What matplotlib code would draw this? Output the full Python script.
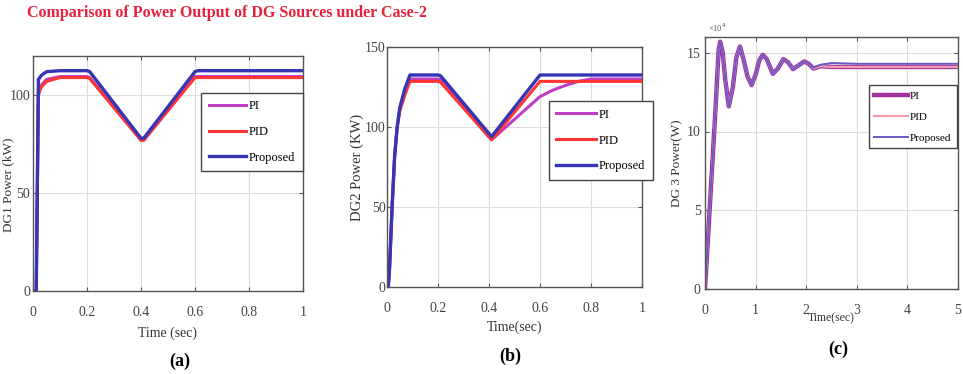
import matplotlib
matplotlib.use("Agg")
import matplotlib.pyplot as plt

plt.rcParams['font.family'] = ['Liberation Serif', 'DejaVu Serif']

# ---------------- data ----------------
# Panel (a): DG1 power (kW)
t_a = [0, 0.012, 0.02, 0.03, 0.05, 0.1, 0.2, 0.21, 0.4, 0.41, 0.6, 0.61, 1.0]
a_pi = [0, 0, 102, 105, 108, 109.5, 109.5, 109, 77, 77, 109.5, 109.5, 109.5]
a_pid = [0, 0, 100, 104, 107, 109, 109, 108.5, 77, 77, 109, 109, 109]
a_prop = [0, 0, 108, 110, 112, 112.5, 112.5, 112, 78, 78, 112, 112.5, 112.5]

# Panel (b): DG2 power (kW)
t_b = [0, 0.005, 0.01, 0.02, 0.03, 0.04, 0.05, 0.07, 0.09, 0.2, 0.21, 0.41, 0.6, 0.61, 1.0]
b_pid = [0, 0, 12, 50, 82, 100, 110, 120, 128.5, 128.5, 128, 92, 128.5, 128.5, 128.5]
b_prop = [0, 0, 12, 50, 82, 100, 112, 124, 132.5, 132.5, 132, 94, 132.5, 132.5, 132.5]
t_b_pi = [0, 0.005, 0.01, 0.02, 0.03, 0.04, 0.05, 0.07, 0.09, 0.2, 0.21, 0.41,
          0.6, 0.65, 0.7, 0.75, 0.8, 1.0]
b_pi = [0, 0, 12, 50, 82, 100, 111, 122, 130, 130, 129.5, 92,
        119, 123, 126, 128.5, 130, 130]

# Panel (c): DG3 power (W)
t_c = [0, 0.1, 0.2, 0.27, 0.3, 0.35, 0.4, 0.47, 0.55, 0.62, 0.69, 0.76, 0.84, 0.92,
       1.0, 1.07, 1.14, 1.22, 1.34, 1.44, 1.55, 1.64, 1.74, 1.85, 1.96, 2.05, 2.14,
       2.3, 2.5, 3.0, 4.0, 5.0]
c_prop = [0, 5.5, 11.0, 15.2, 15.7, 15.0, 13.3, 11.6, 12.8, 14.7, 15.4, 14.6, 13.5, 12.95,
          13.6, 14.5, 14.87, 14.6, 13.66, 14.0, 14.6, 14.4, 13.96, 14.2, 14.45, 14.3, 14.05,
          14.25, 14.35, 14.3, 14.3, 14.3]
c_pid = [0, 5.5, 11.0, 15.2, 15.7, 15.0, 13.3, 11.6, 12.8, 14.7, 15.4, 14.6, 13.5, 12.95,
         13.6, 14.5, 14.87, 14.6, 13.66, 14.0, 14.6, 14.4, 13.96, 14.2, 14.45, 14.3, 14.0,
         14.15, 14.1, 14.1, 14.1, 14.1]
c_pi = c_pid

series_labels = ["PI", "PID", "Proposed"]

# ---------------- figure ----------------
W, H = 963, 374
fig = plt.figure(figsize=(W / 100, H / 100), dpi=100)


def px_axes(left, top, right, bottom):
    return fig.add_axes([left / W, 1 - bottom / H, (right - left) / W, (bottom - top) / H])


def style(ax, ypad=3):
    ax.grid(True, color='#dddddd', linewidth=0.8)
    for s in ax.spines.values():
        s.set_color('#555555')
        s.set_linewidth(1.0)
    ax.tick_params(direction='in', length=3, labelsize=10, labelcolor='#444444',
                   color='#555555', top=True, right=True)
    ax.tick_params(axis='x', pad=11)
    ax.tick_params(axis='y', pad=ypad)


col_pi = '#c03cc0'
col_pid = '#ff3535'
col_prop = '#3535b5'

leg_kw = dict(frameon=True, fancybox=False, edgecolor='#444444', framealpha=1,
              handletextpad=0.2)

# (a)
ax1 = px_axes(33, 56, 303, 291)
ax1.plot(t_a, a_pi, color=col_pi, lw=2.2, label=series_labels[0])
ax1.plot(t_a, a_pid, color=col_pid, lw=2.2, label=series_labels[1])
ax1.plot(t_a, a_prop, color=col_prop, lw=2.4, label=series_labels[2])
ax1.set_xlim(0, 1)
ax1.set_ylim(0, 120)
ax1.set_xticks([0, 0.2, 0.4, 0.6, 0.8, 1])
ax1.set_xticklabels(["0", "0.2", "0.4", "0.6", "0.8", "1"])
ax1.set_yticks([0, 50, 100])
style(ax1, ypad=2)
ax1.set_xlabel("Time (sec)", fontsize=10, color='#333333')
ax1.xaxis.set_label_coords(0.5, -(327 - 291) / 235)
ax1.set_ylabel("DG1 Power (kW)", fontsize=9.5, color='#333333', va='center')
ax1.yaxis.set_label_coords(-(33 - 8) / 270, 0.45)
ax1.legend(loc='upper left', bbox_to_anchor=(0.6, 0.87), fontsize=9,
           handlelength=3.0, borderpad=0.6, labelspacing=1.1, **leg_kw)

# (b)
ax2 = px_axes(387, 47, 642, 287)
ax2.plot(t_b_pi, b_pi, color=col_pi, lw=2.2, label=series_labels[0])
ax2.plot(t_b, b_pid, color=col_pid, lw=2.2, label=series_labels[1])
ax2.plot(t_b, b_prop, color=col_prop, lw=2.4, label=series_labels[2])
ax2.set_xlim(0, 1)
ax2.set_ylim(0, 150)
ax2.set_xticks([0, 0.2, 0.4, 0.6, 0.8, 1])
ax2.set_xticklabels(["0", "0.2", "0.4", "0.6", "0.8", "1"])
ax2.set_yticks([0, 50, 100, 150])
style(ax2, ypad=1)
ax2.set_xlabel("Time(sec)", fontsize=10, color='#333333')
ax2.xaxis.set_label_coords(0.5, -(321 - 287) / 240)
ax2.set_ylabel("DG2 Power (KW)", fontsize=10.5, color='#333333', va='center')
ax2.yaxis.set_label_coords(-(387 - 357) / 255, 0.5)
ax2.legend(loc='upper left', bbox_to_anchor=(0.61, 0.80), fontsize=9,
           handlelength=3.2, borderpad=0.6, labelspacing=1.1, **leg_kw)

# (c)
ax3 = px_axes(705, 37, 958, 289)
ax3.plot(t_c, c_pi, color='#a0309a', lw=3.2, label=series_labels[0])
ax3.plot(t_c, c_pid, color='#f0a0b0', lw=1.6, label=series_labels[1])
ax3.plot(t_c, c_prop, color='#6a5ac8', lw=1.4, label=series_labels[2])
ax3.set_xlim(0, 5)
ax3.set_ylim(0, 16)
ax3.set_xticks([0, 1, 2, 3, 4, 5])
ax3.set_yticks([0, 5, 10, 15])
style(ax3, ypad=3)
ax3.set_xlabel("Time(sec)", fontsize=8.5, color='#333333')
ax3.xaxis.set_label_coords(0.5, -(312 - 289) / 252)
ax3.set_ylabel("DG 3 Power(W)", fontsize=9.5, color='#333333', va='center')
ax3.yaxis.set_label_coords(-(705 - 677) / 253, 0.5)
ax3.text(0.01, 1.01, "×10$^{4}$", transform=ax3.transAxes, fontsize=6, color='#555555',
         va='bottom', ha='left')
ax3.legend(loc='upper left', bbox_to_anchor=(0.625, 0.83), fontsize=8,
           handlelength=3.0, borderpad=0.5, labelspacing=1.0, **leg_kw)

# captions
fig.text(27 / W, 1 - 13 / H, "Comparison of Power Output of DG Sources under Case-2",
         color='#e8203a', fontsize=11.5, fontweight='bold', va='center', ha='left')
fig.text(180 / W, 1 - 361 / H, "(a)", fontsize=13, fontweight='bold', ha='center', va='center')
fig.text(510 / W, 1 - 356 / H, "(b)", fontsize=13, fontweight='bold', ha='center', va='center')
fig.text(838 / W, 1 - 349 / H, "(c)", fontsize=13, fontweight='bold', ha='center', va='center')

fig.savefig("out.png", dpi=100)
